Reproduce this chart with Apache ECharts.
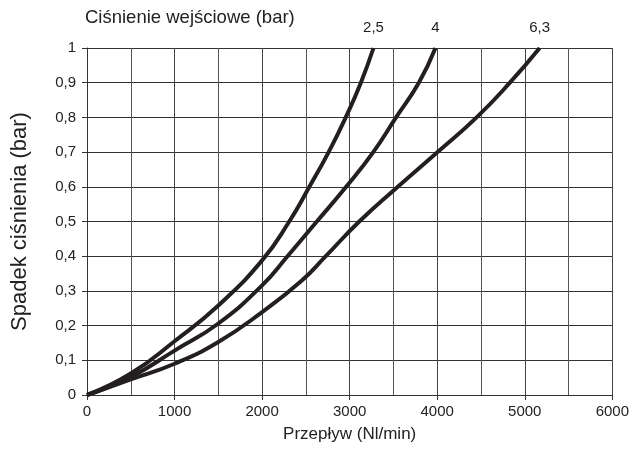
<!DOCTYPE html>
<html><head><meta charset="utf-8">
<script src="https://cdn.jsdelivr.net/npm/echarts@6/dist/echarts.min.js"></script>
<style>html,body{margin:0;padding:0;background:#fff}#c{width:632px;height:450px}</style>
</head><body><div id="c"></div>
<script>
const seriesNames = ['2,5', '4', '6,3'];
const flow25 = [0, 500, 1000, 1500, 2000, 2310, 2540, 2760, 2955, 3128, 3272];
const drop25 = [0, 0.062, 0.155, 0.258, 0.388, 0.5, 0.6, 0.7, 0.8, 0.9, 1.0];
const flow40 = [0, 500, 1000, 1500, 2000, 2290, 2625, 2960, 3270, 3530, 3790, 3980];
const drop40 = [0, 0.052, 0.128, 0.206, 0.316, 0.4, 0.5, 0.6, 0.7, 0.8, 0.9, 1.0];
const flow63 = [0, 500, 1000, 1500, 2000, 2454, 2727, 3110, 3550, 4005, 4450, 4830, 5170];
const drop63 = [0, 0.045, 0.09, 0.153, 0.239, 0.33, 0.4, 0.5, 0.6, 0.7, 0.8, 0.9, 1.0];
const xTicks = [0, 1000, 2000, 3000, 4000, 5000, 6000];
const yTicks = ['0', '0,1', '0,2', '0,3', '0,4', '0,5', '0,6', '0,7', '0,8', '0,9', '1'];

const FONT = '"Liberation Sans", Arial, sans-serif';
const lineStyle = { color: '#231f20', width: 4 };
const mk = (xs, ys, name) => ({
  type: 'line', name,
  data: xs.map((x, i) => [x, ys[i]]),
  smooth: 0.5, symbol: 'none', showSymbol: false,
  lineStyle, clip: false,
  markPoint: {
    symbol: 'circle', symbolSize: 1, itemStyle: { color: 'rgba(0,0,0,0)' },
    label: { show: true, position: 'top', distance: 12, formatter: name,
      fontFamily: FONT, fontSize: 15, color: '#222' },
    data: [{ coord: [xs[xs.length - 1], ys[ys.length - 1]] }]
  }
});

const chart = echarts.init(document.getElementById('c'), null, { renderer: 'canvas' });
chart.setOption({
  animation: false,
  backgroundColor: '#fff',
  textStyle: { fontFamily: FONT },
  title: { text: 'Ciśnienie wejściowe (bar)', left: 85, top: 8, padding: 0,
    textStyle: { fontFamily: FONT, fontSize: 18.5, fontWeight: 'normal', color: '#222' } },
  grid: { left: 87, right: 18, top: 48, bottom: 55, show: false },
  xAxis: {
    type: 'value', min: 0, max: 6000, interval: 1000,
    name: 'Przepływ (Nl/min)', nameLocation: 'middle', nameGap: 31,
    nameTextStyle: { fontFamily: FONT, fontSize: 17, color: '#222' },
    axisLine: { show: true, lineStyle: { color: '#333', width: 1 } },
    axisTick: { show: true, length: 5, lineStyle: { color: '#333' } },
    axisLabel: { fontFamily: FONT, fontSize: 15, color: '#222', margin: 9,
      formatter: v => xTicks.includes(v) ? String(v) : '' },
    splitLine: { show: true, lineStyle: { color: '#444', width: 1 } },
    minorTick: { show: false, splitNumber: 2 },
    minorSplitLine: { show: true, lineStyle: { color: '#555', width: 1 } }
  },
  yAxis: {
    type: 'value', min: 0, max: 1, interval: 0.1,
    name: 'Spadek ciśnienia (bar)', nameLocation: 'middle', nameGap: 56, nameRotate: 90,
    nameTextStyle: { fontFamily: FONT, fontSize: 22, color: '#222' },
    axisLine: { show: true, lineStyle: { color: '#333', width: 1 } },
    axisTick: { show: true, length: 5, lineStyle: { color: '#333' } },
    axisLabel: { fontFamily: FONT, fontSize: 15, color: '#222', margin: 11,
      formatter: v => yTicks[Math.round(v * 10)] },
    splitLine: { show: true, lineStyle: { color: '#333', width: 1 } }
  },
  series: [
    mk(flow25, drop25, seriesNames[0]),
    mk(flow40, drop40, seriesNames[1]),
    mk(flow63, drop63, seriesNames[2])
  ]
});
</script></body></html>
